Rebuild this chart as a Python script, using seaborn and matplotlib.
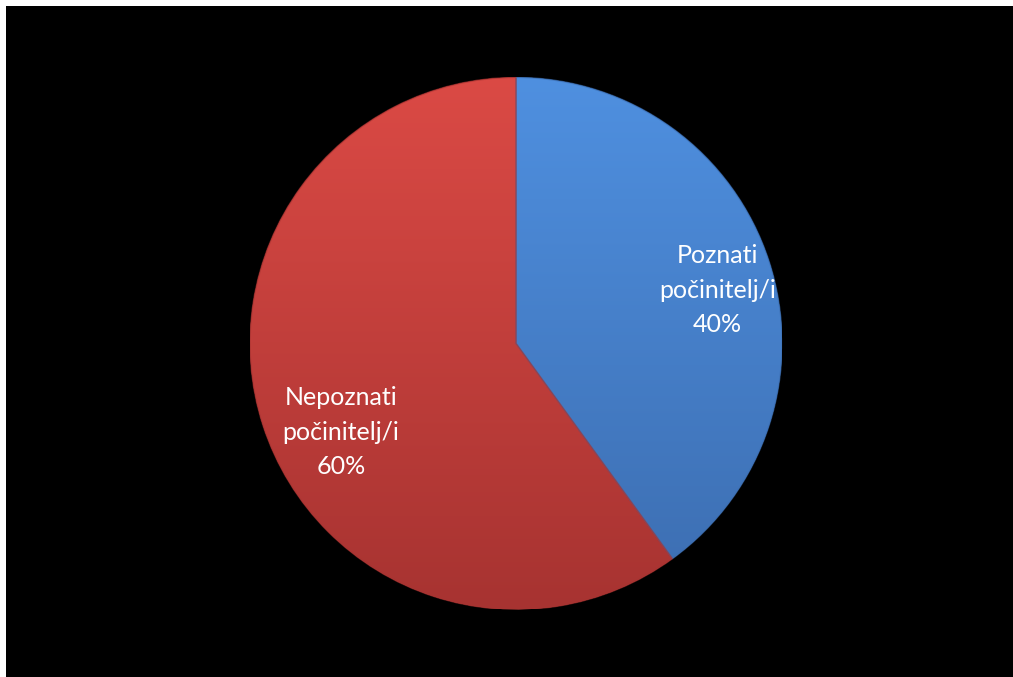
import numpy as np
import matplotlib.pyplot as plt
import seaborn as sns
from matplotlib.colors import LinearSegmentedColormap
from matplotlib.patches import Rectangle, Wedge

# data
labels = ['Poznati\npočinitelj/i', 'Nepoznati\npočinitelj/i']
shares = [40, 60]
top_colors = ['#4F90E0', '#DB4A45']
bottom_colors = ['#3C6DB0', '#A73331']

sns.set_theme(style='white')
plt.rcParams['font.family'] = ['Lato', 'DejaVu Sans']

W, H = 1013, 677
fig = plt.figure(figsize=(W / 100 + 0.001, H / 100 + 0.001), dpi=100,
                 facecolor='black', edgecolor='black')

# white strip on top and left edge of the slide
fig.add_artist(Rectangle((0, 1 - 6 / H), 1, 6 / H, transform=fig.transFigure,
                         facecolor='white', edgecolor='none'))
fig.add_artist(Rectangle((0, 0), 6 / W, 1, transform=fig.transFigure,
                         facecolor='white', edgecolor='none'))

cx, cy, r = 516, 677 - 343.5, 266
ax = fig.add_axes([(cx - r) / W, (cy - r) / H, 2 * r / W, 2 * r / H])
ax.set_facecolor('none')

wedges, _ = ax.pie(shares, startangle=90, counterclock=False, radius=1,
                   colors=top_colors,
                   wedgeprops=dict(linewidth=0))
ax.axis('off')

# vertical gradient fill clipped to each wedge
grad = np.linspace(0, 1, 256).reshape(-1, 1)
for w, c0, c1 in zip(wedges, top_colors, bottom_colors):
    cmap = LinearSegmentedColormap.from_list('g', [c0, c1])
    im = ax.imshow(grad, cmap=cmap, extent=[-1, 1, -1, 1], origin='upper',
                   aspect='auto', zorder=2)
    im.set_clip_path(w)
    ax.add_patch(Wedge((0, 0), 1, w.theta1, w.theta2, fill=False,
                       edgecolor=c1, linewidth=1.0, alpha=0.6, zorder=3))

ax.set_xlim(-1, 1)
ax.set_ylim(-1, 1)

label_pos = [(0.756, 0.201), (-0.658, -0.333)]
for (x, y), lab, v in zip(label_pos, labels, shares):
    ax.text(x, y, f'{lab}\n{v}%', color='white', fontsize=18,
            ha='center', va='center', linespacing=1.62, zorder=5)

fig.savefig('out.png', dpi=100, facecolor='black', edgecolor='black')
